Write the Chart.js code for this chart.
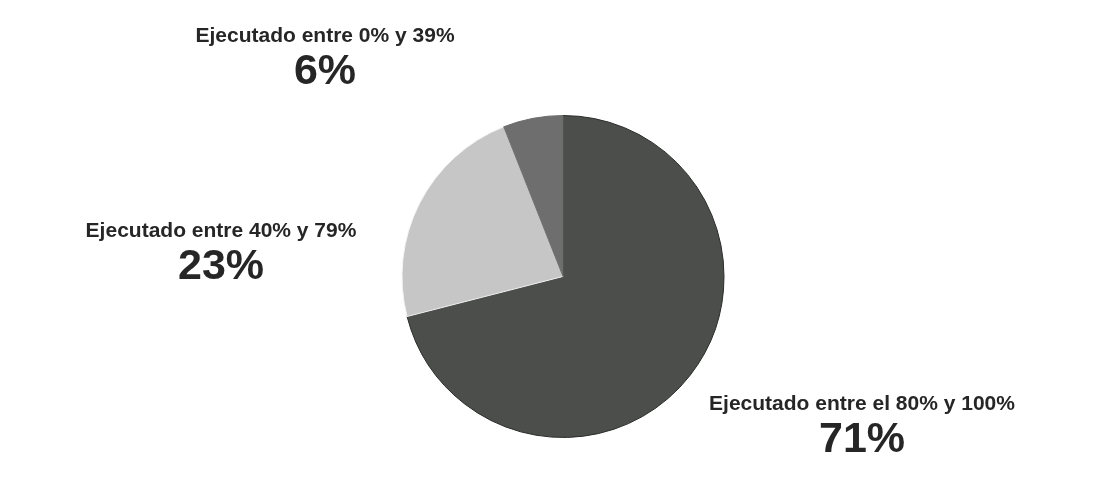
<!DOCTYPE html>
<html>
<head>
<meta charset="utf-8">
<script src="https://cdn.jsdelivr.net/npm/chart.js@4/dist/chart.umd.min.js"></script>
<style>
  html, body { margin: 0; padding: 0; background: #fff; }
  #wrap { width: 1096px; height: 477px; }
</style>
</head>
<body>
<div id="wrap"><canvas id="pie"></canvas></div>
<script>
// data
const categories = ["Ejecutado entre el 80% y 100%", "Ejecutado entre 40% y 79%", "Ejecutado entre 0% y 39%"];
const shares = [71, 23, 6];
const sliceColors = ["#4b4e4b", "#c6c6c6", "#6d6e6d"];
const edgeColors = ["#2a2c2a", "#f2f2f2", "#6d6e6d"];

// where each label block sits (centre x, y of the caption line)
const labelSpots = [
    { x: 862, y: 404 },
    { x: 221, y: 231 },
    { x: 325, y: 36 }
];

const labelPlugin = {
    id: "sliceLabels",
    afterDraw(chart) {
        const ctx = chart.ctx;
        ctx.save();
        ctx.fillStyle = "#262626";
        ctx.textAlign = "center";
        ctx.textBaseline = "middle";
        categories.forEach((name, i) => {
            const spot = labelSpots[i];
            ctx.font = "bold 21px 'Liberation Sans', Arial, sans-serif";
            ctx.fillText(name, spot.x, spot.y);
            ctx.font = "bold 43px 'Liberation Sans', Arial, sans-serif";
            ctx.fillText(shares[i] + "%", spot.x, spot.y + 36);
        });
        ctx.restore();
    }
};

new Chart(document.getElementById("pie"), {
    type: "pie",
    data: {
        labels: categories,
        datasets: [{
            data: shares,
            backgroundColor: sliceColors,
            borderColor: edgeColors,
            borderWidth: 1
        }]
    },
    options: {
        responsive: true,
        maintainAspectRatio: false,
        animation: false,
        layout: { padding: { top: 115, bottom: 39, left: 30, right: 0 } },
        plugins: {
            legend: { display: false },
            tooltip: { enabled: false }
        }
    },
    plugins: [labelPlugin]
});
</script>
</body>
</html>
